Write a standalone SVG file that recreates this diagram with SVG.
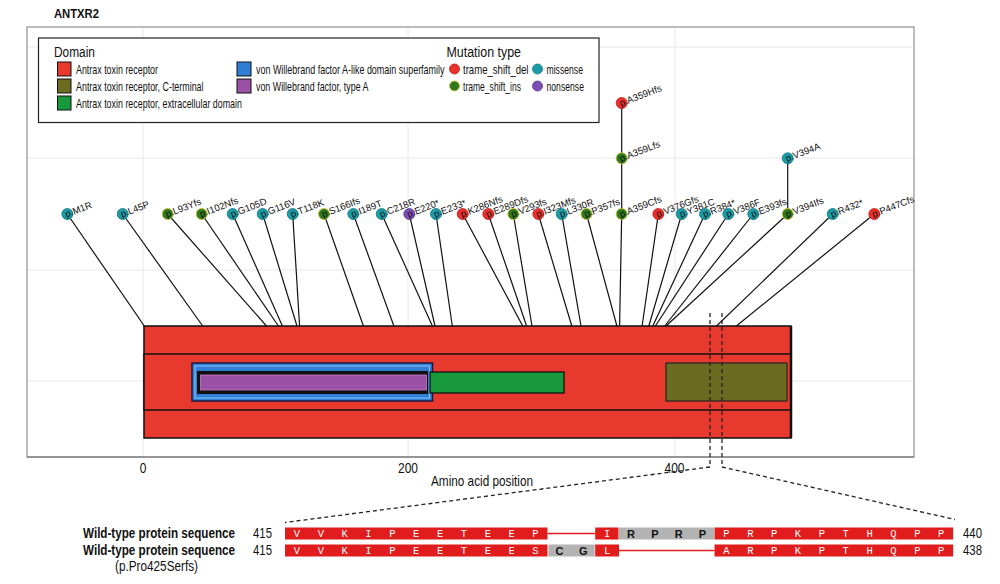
<svg xmlns="http://www.w3.org/2000/svg" width="1000" height="584" viewBox="0 0 1000 584">
<style>
.cond{font-family:"Liberation Sans",Arial,sans-serif;fill:#111}
.lbl{font-family:"Liberation Sans",Arial,sans-serif;font-size:9.5px;fill:#111}
.grid{stroke:#e8e8e8;stroke-width:1}
.stem{stroke:#111;stroke-width:1.2;fill:none}
.del{fill:#e8302c;stroke:#c41a1a;stroke-width:0.8}
.ins{fill:#2f7a1f;stroke:#c9c23a;stroke-width:0.9}
.mis{fill:#1b9ba6;stroke:#127a84;stroke-width:0.8}
.non{fill:#7b4fb5;stroke:#5a3590;stroke-width:0.8}
.dash{stroke:#222;stroke-width:1.3;stroke-dasharray:4 3;fill:none}
.sw{stroke:#111;stroke-width:1}
.seqR{fill:#e01c1c}
.seqG{fill:#b3b3b3}
.aaW{font-family:"Liberation Mono","Courier New",monospace;font-size:10.5px;fill:#fff;text-anchor:middle}
.aaB{font-family:"Liberation Sans",Arial,sans-serif;font-size:11px;font-weight:bold;fill:#111;text-anchor:middle}
.gap{stroke:#e01c1c;stroke-width:1.6}
.lg{font-size:12.5px}
</style>

<text class="cond" x="54" y="17.5" font-size="12" font-weight="bold" textLength="45" lengthAdjust="spacingAndGlyphs">ANTXR2</text>

<g id="plot-frame">
<line class="grid" x1="143" y1="27" x2="143" y2="457"/>
<line class="grid" x1="408" y1="27" x2="408" y2="457"/>
<line class="grid" x1="675" y1="27" x2="675" y2="457"/>
<line class="grid" x1="27" y1="47" x2="914" y2="47"/>
<line class="grid" x1="27" y1="158" x2="914" y2="158"/>
<line class="grid" x1="27" y1="270" x2="914" y2="270"/>
<line class="grid" x1="27" y1="381" x2="914" y2="381"/>
<rect x="27" y="27" width="887" height="430" fill="none" stroke="#7a7a7a" stroke-width="1"/>
<line x1="27" y1="457" x2="914" y2="457" stroke="#888" stroke-width="1.5"/>
<text class="cond" transform="translate(143,473) scale(0.85,1)" font-size="14" text-anchor="middle">0</text>
<text class="cond" transform="translate(408,473) scale(0.855,1)" font-size="14" text-anchor="middle" textLength="23.4" lengthAdjust="spacingAndGlyphs">200</text>
<text class="cond" transform="translate(674.5,473) scale(0.855,1)" font-size="14" text-anchor="middle" textLength="23.4" lengthAdjust="spacingAndGlyphs">400</text>
<text class="cond" transform="translate(431,485.5) scale(0.84,1)" font-size="14" textLength="121.4" lengthAdjust="spacingAndGlyphs">Amino acid position</text>
</g>

<g id="legend">
<rect x="38.5" y="38" width="560.5" height="84.5" fill="#fff" stroke="#222" stroke-width="1.2"/>
<text class="cond" transform="translate(54,56.5) scale(0.76,1)" font-size="15" textLength="53.9" lengthAdjust="spacingAndGlyphs">Domain</text>
<rect class="sw" x="57.5" y="62" width="13.5" height="14" fill="#e8392f"/>
<rect class="sw" x="57.5" y="79" width="13.5" height="14" fill="#6b6b22"/>
<rect class="sw" x="57.5" y="96" width="13.5" height="14" fill="#17983a"/>
<text class="cond lg" transform="translate(76,73.5) scale(0.76,1)" textLength="107.9" lengthAdjust="spacingAndGlyphs">Antrax toxin receptor</text>
<text class="cond lg" transform="translate(76,90.5) scale(0.76,1)" textLength="167.8" lengthAdjust="spacingAndGlyphs">Antrax toxin receptor, C-terminal</text>
<text class="cond lg" transform="translate(76,107.5) scale(0.76,1)" textLength="218.4" lengthAdjust="spacingAndGlyphs">Antrax toxin receptor, extracellular domain</text>
<rect class="sw" x="237" y="62" width="14" height="14" fill="#2f7fd6"/>
<rect class="sw" x="237" y="79" width="14" height="14" fill="#9b52a6"/>
<text class="cond lg" transform="translate(256,73.5) scale(0.76,1)" textLength="248" lengthAdjust="spacingAndGlyphs">von Willebrand factor A-like domain superfamily</text>
<text class="cond lg" transform="translate(256,90.5) scale(0.76,1)" textLength="148" lengthAdjust="spacingAndGlyphs">von Willebrand factor, type A</text>
<text class="cond" transform="translate(446.5,56.5) scale(0.76,1)" font-size="15" textLength="98" lengthAdjust="spacingAndGlyphs">Mutation type</text>
<circle class="del" cx="454.5" cy="69" r="5"/>
<circle class="mis" cx="537.5" cy="69" r="5"/>
<circle class="ins" cx="454.5" cy="86" r="5"/>
<circle class="non" cx="537.5" cy="86" r="5"/>
<text class="cond lg" transform="translate(463,73.5) scale(0.76,1)" textLength="86.2" lengthAdjust="spacingAndGlyphs">trame_shift_del</text>
<text class="cond lg" transform="translate(546.5,73.5) scale(0.76,1)" textLength="48" lengthAdjust="spacingAndGlyphs">missense</text>
<text class="cond lg" transform="translate(463,90.5) scale(0.76,1)" textLength="76.3" lengthAdjust="spacingAndGlyphs">trame_shift_ins</text>
<text class="cond lg" transform="translate(546.5,90.5) scale(0.76,1)" textLength="49.3" lengthAdjust="spacingAndGlyphs">nonsense</text>
</g>

<g id="protein">
<rect x="144" y="326" width="647" height="112" fill="#e8392f" stroke="#111" stroke-width="1.5"/>
<rect x="144" y="354" width="647" height="56" fill="#e8392f" stroke="#111" stroke-width="1.5"/>
<line x1="791" y1="326" x2="791" y2="438" stroke="#111" stroke-width="2.5"/>
<rect x="192" y="363" width="240.5" height="38" fill="#2f7fd6" stroke="#1a1a40" stroke-width="1.5"/>
<rect x="195" y="366" width="234.5" height="32" fill="none" stroke="#8cc4f5" stroke-width="1"/>
<rect x="197" y="371" width="231" height="23" fill="#111"/>
<rect x="200.5" y="375" width="226" height="15" fill="#9b52a6" stroke="#c87ac8" stroke-width="0.8"/>
<rect x="430" y="372" width="134" height="21" fill="#17983a" stroke="#111" stroke-width="1.3"/>
<rect x="666" y="363" width="121" height="38" fill="#6b6b22" stroke="#222" stroke-width="1.2"/>
</g>

<g id="connectors">
<line class="stem" x1="67.3" y1="214" x2="144.3" y2="326"/>
<line class="stem" x1="122.7" y1="214" x2="202.7" y2="326"/>
<line class="stem" x1="167.7" y1="214" x2="266.5" y2="326"/>
<line class="stem" x1="201.7" y1="214" x2="278.4" y2="326"/>
<line class="stem" x1="232.7" y1="214" x2="282.4" y2="326"/>
<line class="stem" x1="262.7" y1="214" x2="297" y2="326"/>
<line class="stem" x1="292.7" y1="214" x2="299.6" y2="326"/>
<line class="stem" x1="324" y1="214" x2="363.4" y2="326"/>
<line class="stem" x1="353.3" y1="214" x2="393.9" y2="326"/>
<line class="stem" x1="381.7" y1="214" x2="432.4" y2="326"/>
<line class="stem" x1="409.3" y1="214" x2="435" y2="326"/>
<line class="stem" x1="436" y1="214" x2="452.3" y2="326"/>
<line class="stem" x1="462.7" y1="214" x2="522.7" y2="326"/>
<line class="stem" x1="488.3" y1="214" x2="526.6" y2="326"/>
<line class="stem" x1="513.3" y1="214" x2="532" y2="326"/>
<line class="stem" x1="538.3" y1="214" x2="571.8" y2="326"/>
<line class="stem" x1="561.7" y1="214" x2="581" y2="326"/>
<line class="stem" x1="586.5" y1="214" x2="616.9" y2="326"/>
<line class="stem" x1="621.7" y1="103" x2="621.7" y2="214"/>
<line class="stem" x1="621.7" y1="214" x2="619.6" y2="326"/>
<line class="stem" x1="658.3" y1="214" x2="642.1" y2="326"/>
<line class="stem" x1="681.7" y1="214" x2="648.8" y2="326"/>
<line class="stem" x1="705" y1="214" x2="652.8" y2="326"/>
<line class="stem" x1="728.3" y1="214" x2="655.4" y2="326"/>
<line class="stem" x1="753.3" y1="214" x2="664.7" y2="326"/>
<line class="stem" x1="787.7" y1="158.3" x2="787.7" y2="214"/>
<line class="stem" x1="787.7" y1="214" x2="666" y2="326"/>
<line class="stem" x1="832.7" y1="214" x2="716.5" y2="326"/>
<line class="stem" x1="874.3" y1="214" x2="736.4" y2="326"/>
<path class="dash" d="M710,313 V467 L285,522.5"/>
<path class="dash" d="M722,313 V467 L955,519.5"/>
</g>

<g id="mutations">
<g id="m-M1R"><circle class="mis" cx="67.3" cy="214" r="5.5"/><text class="lbl" transform="translate(67.3,214) rotate(-21)" x="-2" y="3">p.M1R</text></g>
<g id="m-L45P"><circle class="mis" cx="122.7" cy="214" r="5.5"/><text class="lbl" transform="translate(122.7,214) rotate(-21)" x="-2" y="3">p.L45P</text></g>
<g id="m-L93Yfs"><circle class="ins" cx="167.7" cy="214" r="5.5"/><text class="lbl" transform="translate(167.7,214) rotate(-21)" x="-2" y="3">p.L93Yfs</text></g>
<g id="m-I102Nfs"><circle class="ins" cx="201.7" cy="214" r="5.5"/><text class="lbl" transform="translate(201.7,214) rotate(-21)" x="-2" y="3">p.I102Nfs</text></g>
<g id="m-G105D"><circle class="mis" cx="232.7" cy="214" r="5.5"/><text class="lbl" transform="translate(232.7,214) rotate(-21)" x="-2" y="3">p.G105D</text></g>
<g id="m-G116V"><circle class="mis" cx="262.7" cy="214" r="5.5"/><text class="lbl" transform="translate(262.7,214) rotate(-21)" x="-2" y="3">p.G116V</text></g>
<g id="m-T118K"><circle class="mis" cx="292.7" cy="214" r="5.5"/><text class="lbl" transform="translate(292.7,214) rotate(-21)" x="-2" y="3">p.T118K</text></g>
<g id="m-S166Ifs"><circle class="ins" cx="324" cy="214" r="5.5"/><text class="lbl" transform="translate(324,214) rotate(-21)" x="-2" y="3">p.S166Ifs</text></g>
<g id="m-I189T"><circle class="mis" cx="353.3" cy="214" r="5.5"/><text class="lbl" transform="translate(353.3,214) rotate(-21)" x="-2" y="3">p.I189T</text></g>
<g id="m-C218R"><circle class="mis" cx="381.7" cy="214" r="5.5"/><text class="lbl" transform="translate(381.7,214) rotate(-21)" x="-2" y="3">p.C218R</text></g>
<g id="m-E220X"><circle class="non" cx="409.3" cy="214" r="5.5"/><text class="lbl" transform="translate(409.3,214) rotate(-21)" x="-2" y="3">p.E220*</text></g>
<g id="m-E233X"><circle class="mis" cx="436" cy="214" r="5.5"/><text class="lbl" transform="translate(436,214) rotate(-21)" x="-2" y="3">p.E233*</text></g>
<g id="m-K286Nfs"><circle class="del" cx="462.7" cy="214" r="5.5"/><text class="lbl" transform="translate(462.7,214) rotate(-21)" x="-2" y="3">p.K286Nfs</text></g>
<g id="m-E289Dfs"><circle class="del" cx="488.3" cy="214" r="5.5"/><text class="lbl" transform="translate(488.3,214) rotate(-21)" x="-2" y="3">p.E289Dfs</text></g>
<g id="m-V293fs"><circle class="ins" cx="513.3" cy="214" r="5.5"/><text class="lbl" transform="translate(513.3,214) rotate(-21)" x="-2" y="3">p.V293fs</text></g>
<g id="m-I323Mfs"><circle class="del" cx="538.3" cy="214" r="5.5"/><text class="lbl" transform="translate(538.3,214) rotate(-21)" x="-2" y="3">p.I323Mfs</text></g>
<g id="m-L330R"><circle class="mis" cx="561.7" cy="214" r="5.5"/><text class="lbl" transform="translate(561.7,214) rotate(-21)" x="-2" y="3">p.L330R</text></g>
<g id="m-P357fs"><circle class="ins" cx="586.5" cy="214" r="5.5"/><text class="lbl" transform="translate(586.5,214) rotate(-21)" x="-2" y="3">p.P357fs</text></g>
<g id="m-A359Cfs"><circle class="ins" cx="621.7" cy="214" r="5.5"/><text class="lbl" transform="translate(621.7,214) rotate(-21)" x="-2" y="3">p.A359Cfs</text></g>
<g id="m-A359Lfs"><circle class="ins" cx="621.7" cy="158.3" r="5.5"/><text class="lbl" transform="translate(621.7,158.3) rotate(-21)" x="-2" y="3">p.A359Lfs</text></g>
<g id="m-A359Hfs"><circle class="del" cx="621.7" cy="103" r="5.5"/><text class="lbl" transform="translate(621.7,103) rotate(-21)" x="-2" y="3">p.A359Hfs</text></g>
<g id="m-V376Gfs"><circle class="del" cx="658.3" cy="214" r="5.5"/><text class="lbl" transform="translate(658.3,214) rotate(-21)" x="-2" y="3">p.V376Gfs</text></g>
<g id="m-Y381C"><circle class="mis" cx="681.7" cy="214" r="5.5"/><text class="lbl" transform="translate(681.7,214) rotate(-21)" x="-2" y="3">p.Y381C</text></g>
<g id="m-R384X"><circle class="mis" cx="705" cy="214" r="5.5"/><text class="lbl" transform="translate(705,214) rotate(-21)" x="-2" y="3">p.R384*</text></g>
<g id="m-V386F"><circle class="mis" cx="728.3" cy="214" r="5.5"/><text class="lbl" transform="translate(728.3,214) rotate(-21)" x="-2" y="3">p.V386F</text></g>
<g id="m-E393fs"><circle class="mis" cx="753.3" cy="214" r="5.5"/><text class="lbl" transform="translate(753.3,214) rotate(-21)" x="-2" y="3">p.E393fs</text></g>
<g id="m-V394Ifs"><circle class="ins" cx="787.7" cy="214" r="5.5"/><text class="lbl" transform="translate(787.7,214) rotate(-21)" x="-2" y="3">p.V394Ifs</text></g>
<g id="m-V394A"><circle class="mis" cx="787.7" cy="158.3" r="5.5"/><text class="lbl" transform="translate(787.7,158.3) rotate(-21)" x="-2" y="3">p.V394A</text></g>
<g id="m-R432X"><circle class="mis" cx="832.7" cy="214" r="5.5"/><text class="lbl" transform="translate(832.7,214) rotate(-21)" x="-2" y="3">p.R432*</text></g>
<g id="m-P447Cfs"><circle class="del" cx="874.3" cy="214" r="5.5"/><text class="lbl" transform="translate(874.3,214) rotate(-21)" x="-2" y="3">p.P447Cfs</text></g>
</g>

<g id="sequence-labels">
<text class="cond" transform="translate(235,538) scale(0.8,1)" font-size="14.5" font-weight="bold" text-anchor="end" textLength="190" lengthAdjust="spacingAndGlyphs">Wild-type protein sequence</text>
<text class="cond" transform="translate(235,554.5) scale(0.8,1)" font-size="14.5" font-weight="bold" text-anchor="end" textLength="190" lengthAdjust="spacingAndGlyphs">Wild-type protein sequence</text>
<text class="cond" transform="translate(115,571) scale(0.84,1)" font-size="14" textLength="98.8" lengthAdjust="spacingAndGlyphs">(p.Pro425Serfs)</text>
<text class="cond" transform="translate(253,538) scale(0.81,1)" font-size="14" textLength="23.4" lengthAdjust="spacingAndGlyphs">415</text>
<text class="cond" transform="translate(253,554.5) scale(0.81,1)" font-size="14" textLength="23.4" lengthAdjust="spacingAndGlyphs">415</text>
<text class="cond" transform="translate(963,538) scale(0.81,1)" font-size="14" textLength="23.4" lengthAdjust="spacingAndGlyphs">440</text>
<text class="cond" transform="translate(963,554.5) scale(0.81,1)" font-size="14" textLength="23.4" lengthAdjust="spacingAndGlyphs">438</text>
</g>

<g id="seq-wildtype">
<rect class="seqR" x="285" y="527.5" width="262.5" height="12"/>
<line class="gap" x1="547.5" y1="533.5" x2="595.2" y2="533.5"/>
<rect class="seqR" x="595.2" y="527.5" width="23.3" height="12"/>
<rect class="seqG" x="619" y="527.5" width="95" height="12"/>
<rect class="seqR" x="714.5" y="527.5" width="238.6" height="12"/>
<g class="aaW">
<text x="296.9" y="537">V</text><text x="320.8" y="537">V</text><text x="344.7" y="537">K</text><text x="368.5" y="537">I</text><text x="392.4" y="537">P</text><text x="416.2" y="537">E</text><text x="440.1" y="537">E</text><text x="464" y="537">T</text><text x="487.8" y="537">E</text><text x="511.7" y="537">E</text><text x="535.5" y="537">P</text>
<text x="607.1" y="537">I</text>
<text x="726.4" y="537">P</text><text x="750.3" y="537">R</text><text x="774.1" y="537">P</text><text x="798" y="537">K</text><text x="821.9" y="537">P</text><text x="845.7" y="537">T</text><text x="869.6" y="537">H</text><text x="893.4" y="537">Q</text><text x="917.3" y="537">P</text><text x="941.2" y="537">P</text>
</g>
<g class="aaB">
<text x="631" y="537.5">R</text><text x="654.8" y="537.5">P</text><text x="678.7" y="537.5">R</text><text x="702.5" y="537.5">P</text>
</g>
</g>

<g id="seq-mutant">
<rect class="seqR" x="285" y="544.5" width="262.5" height="12"/>
<rect class="seqG" x="548.5" y="544.5" width="46.2" height="12"/>
<rect class="seqR" x="595.2" y="544.5" width="23.8" height="12"/>
<line class="gap" x1="619" y1="550.5" x2="714.5" y2="550.5"/>
<rect class="seqR" x="714.5" y="544.5" width="238.6" height="12"/>
<g class="aaW">
<text x="296.9" y="554">V</text><text x="320.8" y="554">V</text><text x="344.7" y="554">K</text><text x="368.5" y="554">I</text><text x="392.4" y="554">P</text><text x="416.2" y="554">E</text><text x="440.1" y="554">E</text><text x="464" y="554">T</text><text x="487.8" y="554">E</text><text x="511.7" y="554">E</text><text x="535.5" y="554">S</text>
<text x="607.1" y="554">L</text>
<text x="726.4" y="554">A</text><text x="750.3" y="554">R</text><text x="774.1" y="554">P</text><text x="798" y="554">K</text><text x="821.9" y="554">P</text><text x="845.7" y="554">T</text><text x="869.6" y="554">H</text><text x="893.4" y="554">Q</text><text x="917.3" y="554">P</text><text x="941.2" y="554">P</text>
</g>
<g class="aaB">
<text x="559.4" y="554.5">C</text><text x="583.3" y="554.5">G</text>
</g>
</g>
</svg>
